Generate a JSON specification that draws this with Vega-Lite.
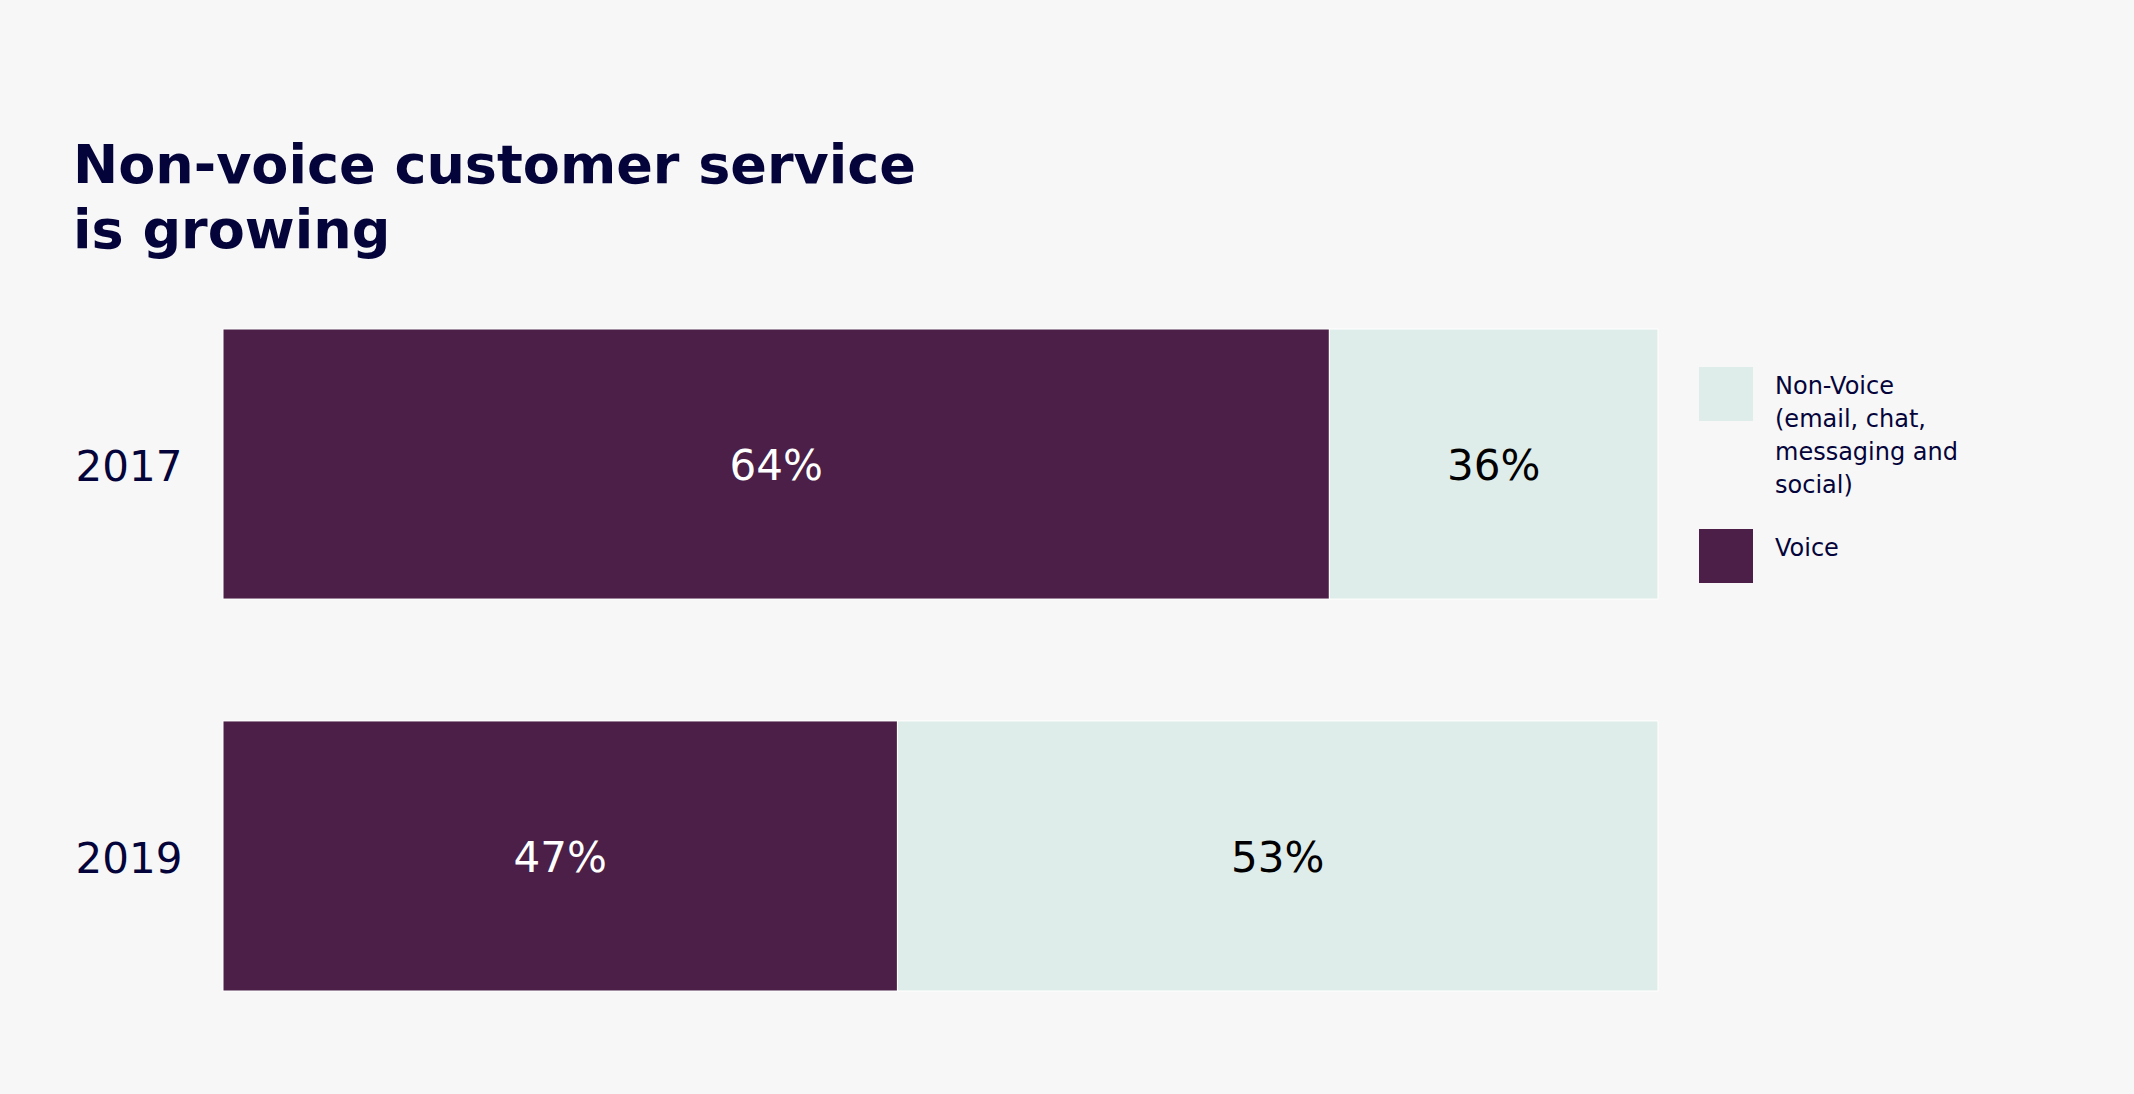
{
  "$schema": "https://vega.github.io/schema/vega-lite/v6.json",
  "width": 1435,
  "height": 662,
  "autosize": "none",
  "padding": {"left": 223, "top": 329, "right": 476, "bottom": 103},
  "background": "#F7F7F7",
  "title": {
    "text": ["Non-voice customer service", "is growing"],
    "anchor": "start",
    "frame": "group",
    "dx": -150,
    "offset": 70,
    "font": "DejaVu Sans",
    "fontSize": 54,
    "fontWeight": "bold",
    "lineHeight": 65,
    "color": "#04043A"
  },
  "data": {
    "values": [
      {"year": "2017", "type": "Voice", "share": 0.771, "pct": "64%"},
      {"year": "2017", "type": "Non-Voice (email, chat, messaging and social)", "share": 0.229, "pct": "36%"},
      {"year": "2019", "type": "Voice", "share": 0.47, "pct": "47%"},
      {"year": "2019", "type": "Non-Voice (email, chat, messaging and social)", "share": 0.53, "pct": "53%"}
    ]
  },
  "encoding": {
    "y": {
      "field": "year",
      "type": "ordinal",
      "sort": ["2017", "2019"],
      "scale": {"paddingInner": 0.311, "paddingOuter": 0},
      "axis": {
        "title": null,
        "domain": false,
        "ticks": false,
        "labelFont": "DejaVu Sans",
        "labelFontSize": 42,
        "labelColor": "#04043A",
        "labelPadding": 41,
        "labelOffset": 4
      }
    }
  },
  "layer": [
    {
      "mark": {"type": "bar", "stroke": "#FFFFFF", "strokeWidth": 1},
      "encoding": {
        "x": {
          "field": "share",
          "type": "quantitative",
          "stack": "zero",
          "scale": {"domain": [0, 1], "nice": false},
          "axis": null
        },
        "color": {
          "field": "type",
          "type": "nominal",
          "scale": {
            "domain": ["Non-Voice (email, chat, messaging and social)", "Voice"],
            "range": ["#DFEDEA", "#4B1F47"]
          },
          "legend": {
            "title": null,
            "orient": "none",
            "legendX": 1476,
            "legendY": 38,
            "padding": 0,
            "symbolType": "square",
            "symbolSize": 2916,
            "symbolStrokeWidth": 0,
            "symbolOpacity": 1,
            "labelFont": "DejaVu Sans",
            "labelFontSize": 24,
            "labelColor": "#04043A",
            "labelOffset": 22,
            "labelBaseline": "alphabetic",
            "labelLimit": 400,
            "rowPadding": 31,
            "labelExpr": "datum.label == 'Voice' ? 'Voice' : ['Non-Voice', '(email, chat,', 'messaging and', 'social)']"
          }
        },
        "order": {"field": "type", "sort": "descending"}
      }
    },
    {
      "transform": [{"filter": "datum.type == 'Voice'"}],
      "mark": {"type": "text", "font": "DejaVu Sans", "fontSize": 42, "color": "#FFFFFF", "baseline": "middle", "dy": 3},
      "encoding": {
        "x": {
          "field": "share",
          "type": "quantitative",
          "scale": {"domain": [0, 2], "nice": false},
          "axis": null
        },
        "text": {"field": "pct", "type": "nominal"}
      }
    },
    {
      "transform": [{"filter": "datum.type != 'Voice'"}],
      "mark": {"type": "text", "font": "DejaVu Sans", "fontSize": 42, "color": "#000000", "baseline": "middle", "dy": 3},
      "encoding": {
        "x": {
          "field": "share",
          "type": "quantitative",
          "scale": {"domain": [0, 2], "nice": false, "reverse": true},
          "axis": null
        },
        "text": {"field": "pct", "type": "nominal"}
      }
    }
  ],
  "resolve": {"scale": {"x": "independent"}},
  "config": {
    "view": {"stroke": null},
    "style": {"guide-label": {"lineHeight": 33}}
  }
}
